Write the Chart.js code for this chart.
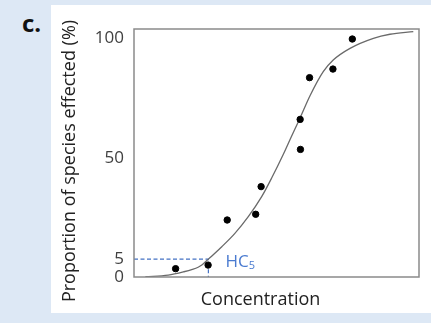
<!DOCTYPE html>
<html>
<head>
<meta charset="utf-8">
<script src="https://cdn.jsdelivr.net/npm/chart.js@4.4.0/dist/chart.umd.min.js"></script>
<style>
  html, body { margin: 0; padding: 0; }
  body { width: 431px; height: 323px; background: #dde8f5; position: relative; overflow: hidden; }
  #panel { position: absolute; left: 51px; top: 5px; width: 380px; height: 308px; background: #fff; }
  #tag { position: absolute; left: 22px; top: 11px; font: bold 24px 'Open Sans', sans-serif; line-height: 24px; color: #111; }
  #wrap { position: absolute; left: 0; top: 0; width: 431px; height: 323px; }
</style>
</head>
<body>
<div id="panel"></div>
<div id="tag">c.</div>
<div id="wrap"><canvas id="chart" width="431" height="323"></canvas></div>
<script>
// observed species (concentration, % affected)
const pointX = [1.46, 2.6, 3.27, 4.27, 4.46, 5.84, 5.83, 6.16, 6.98, 7.66];
const pointY = [3.5, 5.0, 23.9, 26.3, 37.9, 53.5, 66.1, 83.6, 87.2, 99.8];

// fitted sensitivity curve
const curveX = [0.4, 1.2, 1.75, 2.05, 2.25, 2.38, 2.61, 3.08, 3.54, 4.01, 4.48, 4.83, 5.24, 5.5, 5.82, 6.18, 6.64, 6.99, 7.58, 8.4, 8.98, 9.8];
const curveY = [0.1, 0.8, 2.2, 3.2, 4.1, 5.0, 7.5, 12.7, 18.3, 25.3, 33.7, 41.5, 51.5, 58.3, 66.5, 76.1, 86.1, 91.0, 95.9, 100.1, 101.8, 102.9];

// HC5 marker
const hc5X = 2.61;
const hc5Y = 7.5;

// y axis ticks (positions and labels)
const yTickValues = [0, 7.5, 50, 100];
const yTickLabels = ['0', '5', '50', '100'];

const xTitle = 'Concentration';
const yTitle = 'Proportion of species effected (%)';

const frame = {
  id: 'frame',
  afterDatasetsDraw(chart) {
    const { ctx, chartArea: a } = chart;
    ctx.save();
    ctx.strokeStyle = '#8a8a8a';
    ctx.lineWidth = 1.5;
    ctx.strokeRect(a.left, a.top, a.right - a.left, a.bottom - a.top);
    ctx.restore();
  }
};

// axis titles sit a little off-centre in the original
const axisTitles = {
  id: 'axisTitles',
  afterDraw(chart) {
    const { ctx, chartArea: a } = chart;
    ctx.save();
    ctx.fillStyle = '#222';
    ctx.font = '18px "Open Sans"';
    ctx.textAlign = 'center';
    ctx.textBaseline = 'middle';
    ctx.fillText(xTitle, (a.left + a.right) / 2 - 16, a.bottom + 23);
    ctx.translate(a.left - 64, (a.top + a.bottom) / 2 + 8);
    ctx.rotate(-Math.PI / 2);
    ctx.fillText(yTitle, 0, 0);
    ctx.restore();
  }
};

const hcLabel = {
  id: 'hcLabel',
  afterDatasetsDraw(chart) {
    const { ctx, scales: { x, y } } = chart;
    const px = x.getPixelForValue(hc5X) + 17;
    const py = y.getPixelForValue(hc5Y);
    ctx.save();
    ctx.fillStyle = '#4a7bd0';
    ctx.textBaseline = 'alphabetic';
    ctx.font = '17px "Open Sans"';
    ctx.fillText('HC', px, py + 8);
    const w = ctx.measureText('HC').width;
    ctx.font = '11px "Open Sans"';
    ctx.fillText('5', px + w, py + 10);
    ctx.restore();
  }
};

const ctx = document.getElementById('chart').getContext('2d');
new Chart(ctx, {
  type: 'scatter',
  data: {
    datasets: [
      {
        label: 'species',
        data: pointX.map((v, i) => ({ x: v, y: pointY[i] })),
        backgroundColor: '#000',
        borderColor: '#000',
        pointRadius: 3.2,
        pointHoverRadius: 3.2
      },
      {
        label: 'curve',
        data: curveX.map((v, i) => ({ x: v, y: curveY[i] })),
        showLine: true,
        borderColor: '#6a6a6a',
        borderWidth: 1.3,
        pointRadius: 0,
        cubicInterpolationMode: 'monotone'
      },
      {
        label: 'HC5',
        data: [{ x: 0, y: hc5Y }, { x: hc5X, y: hc5Y }, { x: hc5X, y: 0 }],
        showLine: true,
        borderColor: '#4472c4',
        borderWidth: 1.2,
        borderDash: [4, 2.5],
        pointRadius: 0,
        tension: 0
      }
    ]
  },
  options: {
    responsive: false,
    animation: false,
    layout: { padding: { top: 29, right: 12, left: 60, bottom: 10 } },
    plugins: {
      legend: { display: false },
      tooltip: { enabled: false }
    },
    scales: {
      x: {
        type: 'linear',
        min: 0,
        max: 10,
        grid: { display: false, drawTicks: false },
        border: { display: false },
        ticks: { display: false },
        afterFit: (scale) => { scale.height = 36; }
      },
      y: {
        type: 'linear',
        min: 0,
        max: 104,
        grid: { display: false, drawTicks: false },
        border: { display: false },
        afterBuildTicks: (scale) => { scale.ticks = yTickValues.map(v => ({ value: v })); },
        ticks: {
          autoSkip: false,
          padding: 10,
          color: '#404040',
          font: { family: 'Open Sans', size: 17 },
          callback: (v, i) => yTickLabels[i]
        },
        afterFit: (scale) => { scale.width = 74; }
      }
    }
  },
  plugins: [frame, axisTitles, hcLabel]
});
</script>
</body>
</html>
